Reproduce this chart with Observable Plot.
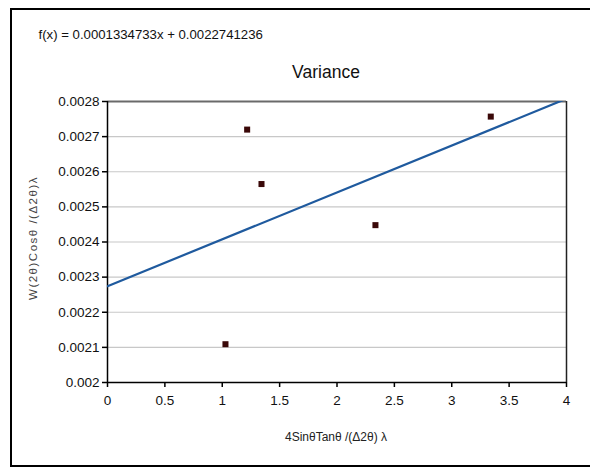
<!DOCTYPE html>
<html>
<head>
<meta charset="utf-8">
<script src="https://cdn.jsdelivr.net/npm/d3@7"></script>
<script src="https://cdn.jsdelivr.net/npm/@observablehq/plot@0.6"></script>
<style>
  body { margin: 0; background: #fff; }
  #wrap { position: relative; width: 590px; height: 471px; overflow: hidden; }
  #border { position: absolute; left: 10px; top: 8px; width: 600px; height: 459px; border: 2px solid #000; box-sizing: border-box; pointer-events: none; }
  .ylab text { letter-spacing: 1.5px; }
</style>
</head>
<body>
<div id="wrap"><div id="border"></div></div>
<script>
const xValues = [1.217, 1.342, 2.335, 1.028, 3.34];
const yValues = [0.00272, 0.002565, 0.002448, 0.002109, 0.002757];
const trendX = [0, 4];
const trendY = [0.0022741236, 0.0028080168];
const xTicks = [0, 0.5, 1, 1.5, 2, 2.5, 3, 3.5, 4];
const yTicks = [0.002, 0.0021, 0.0022, 0.0023, 0.0024, 0.0025, 0.0026, 0.0027, 0.0028];
const titleText = "Variance";
const formulaText = "f(x) = 0.0001334733x + 0.0022741236";
const xLabel = "4SinθTanθ /(Δ2θ) λ";
const yLabel = "W(2θ)Cosθ /(Δ2θ)λ";

const points = xValues.map((x, i) => ({x, y: yValues[i]}));
const trend = trendX.map((x, i) => ({x, y: trendY[i]}));
const font = "'Liberation Sans', Arial, sans-serif";

const chart = Plot.plot({
  width: 590,
  height: 471,
  marginLeft: 107,
  marginRight: 24,
  marginTop: 101,
  marginBottom: 89,
  style: { fontFamily: font, fontSize: "13.5px", color: "#111", background: "transparent" },
  x: { domain: [0, 4] },
  y: { domain: [0.002, 0.0028] },
  marks: [
    Plot.gridY(yTicks, { stroke: "#c8c8c8", strokeOpacity: 1, strokeWidth: 1.2 }),
    Plot.ruleY([0.0028], { stroke: "#6a6a6a", strokeWidth: 2 }),
    Plot.ruleX([4], { stroke: "#222", strokeWidth: 1.5 }),
    Plot.ruleX([0], { stroke: "#000", strokeWidth: 1.5 }),
    Plot.ruleY([0.002], { stroke: "#000", strokeWidth: 1.5 }),
    Plot.axisY(yTicks, { tickSize: 5, tickPadding: 3, stroke: "#000", strokeWidth: 1.5, tickFormat: d => String(+d.toFixed(4)), label: null, fontSize: 13.5 }),
    Plot.axisX(xTicks, { tickSize: 5, tickPadding: 8, stroke: "#000", strokeWidth: 1.5, tickFormat: d => String(d), label: null, fontSize: 13.5 }),
    Plot.line(trend, { x: "x", y: "y", stroke: "#1f5a9e", strokeWidth: 2.2, clip: true }),
    Plot.dot(points, { x: "x", y: "y", symbol: "square", r: 3.4, fill: "#3a0808", stroke: "none" }),
    Plot.text([titleText], { frameAnchor: "top", lineAnchor: "middle", dx: -11, dy: -29, fontSize: 17.5, fill: "#111" }),
    Plot.text([formulaText], { frameAnchor: "top-left", lineAnchor: "middle", textAnchor: "start", dx: -69, dy: -67, fontSize: 13.2, fill: "#111" }),
    Plot.text([xLabel], { frameAnchor: "bottom", lineAnchor: "middle", dx: -1, dy: 55, fontSize: 12, fill: "#222" }),
    Plot.text([yLabel], { frameAnchor: "left", textAnchor: "middle", dx: -74, dy: -4, rotate: -90, fontSize: 11.5, fill: "#444", className: "ylab" })
  ]
});
document.getElementById("wrap").prepend(chart);
</script>
</body>
</html>
